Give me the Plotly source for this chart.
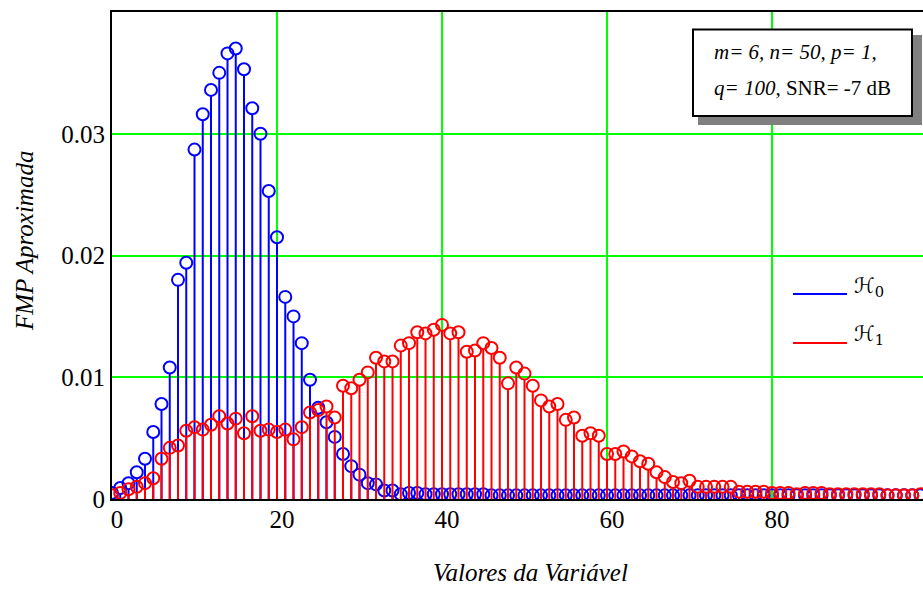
import plotly.graph_objects as go

# Values of the variable (integer support 0..98)
k = list(range(99))

# Approximate PMF under H0 (blue)
h0 = [0.0005, 0.0009, 0.0013, 0.0022, 0.0033, 0.0055, 0.0078, 0.0108, 0.0180, 0.0194,
      0.0287, 0.0316, 0.0336, 0.0350, 0.0366, 0.0370, 0.0353, 0.0321, 0.0300, 0.0253,
      0.0215, 0.0166, 0.0150, 0.0128, 0.0098, 0.0075, 0.0063, 0.0051, 0.0037, 0.0027,
      0.0020, 0.0013, 0.0012, 0.0007, 0.0007, 0.0004, 0.0005, 0.0005, 0.0004, 0.0004,
      0.0004, 0.0004, 0.0004, 0.0004, 0.0004, 0.0004, 0.0003, 0.0003, 0.0003, 0.0003,
      0.0003, 0.0003, 0.0003, 0.0003, 0.0003, 0.0003, 0.0003, 0.0003, 0.0003, 0.0003,
      0.0003, 0.0003, 0.0003, 0.0003, 0.0003, 0.0003, 0.0003, 0.0003, 0.0003, 0.0003,
      0.0003, 0.0003, 0.0003, 0.0003, 0.0003, 0.0003, 0.0003, 0.0003, 0.0003, 0.0003,
      0.0003, 0.0003, 0.0003, 0.0003, 0.0003, 0.0003, 0.0003, 0.0003, 0.0003, 0.0003,
      0.0003, 0.0003, 0.0003, 0.0003, 0.0003, 0.0003, 0.0003, 0.0003, 0.0003]

# Approximate PMF under H1 (red)
h1 = [0.0003, 0.0005, 0.0008, 0.0010, 0.0013, 0.0017, 0.0033, 0.0042, 0.0044, 0.0056,
      0.0059, 0.0057, 0.0061, 0.0068, 0.0062, 0.0066, 0.0054, 0.0068, 0.0056, 0.0057,
      0.0055, 0.0057, 0.0049, 0.0059, 0.0071, 0.0073, 0.0076, 0.0067, 0.0093, 0.0091,
      0.0098, 0.0104, 0.0116, 0.0113, 0.0113, 0.0126, 0.0128, 0.0137, 0.0136, 0.0139,
      0.0143, 0.0136, 0.0137, 0.0121, 0.0122, 0.0128, 0.0124, 0.0116, 0.0095, 0.0108,
      0.0103, 0.0093, 0.0081, 0.0076, 0.0078, 0.0065, 0.0067, 0.0052, 0.0054, 0.0052,
      0.0037, 0.0037, 0.0039, 0.0035, 0.0031, 0.0029, 0.0022, 0.0018, 0.0014, 0.0013,
      0.0015, 0.0010, 0.0010, 0.0010, 0.0010, 0.0010, 0.0006, 0.0006, 0.0006, 0.0006,
      0.0005, 0.0005, 0.0005, 0.0004, 0.0005, 0.0005, 0.0005, 0.0004, 0.0004, 0.0004,
      0.0004, 0.0004, 0.0004, 0.0004, 0.0003, 0.0003, 0.0003, 0.0003, 0.0004]

x_ticks = [0, 20, 40, 60, 80]
y_ticks = [0, 0.01, 0.02, 0.03]
y_ticktext = ["0", "0.01", "0.02", "0.03"]
legend_labels = ["\u210b<sub>0</sub>", "\u210b<sub>1</sub>"]
note_line1 = "<i>m= 6, n= 50, p= 1,</i>"
note_line2 = "<i>q= 100,</i> SNR= -7 dB"
x_title = "Valores da Variável"
y_title = "FMP Aproximada"

BLUE = "#0000FF"
RED = "#FF0000"
GREEN = "#00FF00"
SERIF = "Liberation Serif, Times New Roman, serif"

W, H = 923, 589
L, R, T, B = 112, 0, 12, 90
plot_w = W - L - R
plot_h = H - T - B
x_range = [0, 98.3]
y_range = [0, 0.04]
marker_size = 12

# stems stop at the lower edge of each hollow circle
r_data = (marker_size / 2) * (y_range[1] - y_range[0]) / plot_h


def stems(vals):
    xs, ys = [], []
    for i, v in zip(k, vals):
        top = v - r_data
        if top > 0:
            xs += [i, i, None]
            ys += [0, top, None]
    return xs, ys


def px(xp):
    return (xp - L) / plot_w


def py(yp):
    return (H - B - yp) / plot_h


fig = go.Figure()
for vals, color in ((h0, BLUE), (h1, RED)):
    sx, sy = stems(vals)
    fig.add_trace(go.Scatter(x=sx, y=sy, mode="lines",
                             line=dict(color=color, width=2),
                             hoverinfo="skip", showlegend=False))
    fig.add_trace(go.Scatter(x=k, y=vals, mode="markers",
                             marker=dict(symbol="circle-open", size=marker_size,
                                         color=color, line=dict(color=color, width=2)),
                             showlegend=False))

shapes = [
    # shadowed note box
    dict(type="rect", xref="paper", yref="paper", x0=px(698), x1=px(922),
         y0=py(125), y1=py(35), fillcolor="#808080", line=dict(width=0)),
    dict(type="rect", xref="paper", yref="paper", x0=px(693), x1=px(912),
         y0=py(116), y1=py(29.5), fillcolor="white", line=dict(color="black", width=2)),
    # legend strokes
    dict(type="line", xref="paper", yref="paper", x0=px(793), x1=px(847),
         y0=py(294), y1=py(294), line=dict(color=BLUE, width=2)),
    dict(type="line", xref="paper", yref="paper", x0=px(793), x1=px(847),
         y0=py(343), y1=py(343), line=dict(color=RED, width=2)),
]

annotations = [
    dict(text=note_line1, x=px(712), y=py(52), xref="paper", yref="paper",
         xanchor="left", yanchor="middle", showarrow=False,
         font=dict(family=SERIF, size=21, color="black")),
    dict(text=note_line2, x=px(712), y=py(88), xref="paper", yref="paper",
         xanchor="left", yanchor="middle", showarrow=False,
         font=dict(family=SERIF, size=21, color="black")),
    dict(text=legend_labels[0], x=px(852), y=py(287), xref="paper", yref="paper",
         xanchor="left", yanchor="middle", showarrow=False,
         font=dict(family="DejaVu Serif, DejaVu Sans", size=21, color="black")),
    dict(text=legend_labels[1], x=px(852), y=py(335), xref="paper", yref="paper",
         xanchor="left", yanchor="middle", showarrow=False,
         font=dict(family="DejaVu Serif, DejaVu Sans", size=21, color="black")),
    dict(text="<i>" + x_title + "</i>", x=px(530), y=py(572), xref="paper", yref="paper",
         xanchor="center", yanchor="middle", showarrow=False,
         font=dict(family=SERIF, size=25, color="black")),
    dict(text="<i>" + y_title + "</i>", x=px(24), y=py(241), xref="paper", yref="paper",
         xanchor="center", yanchor="middle", showarrow=False, textangle=-90,
         font=dict(family=SERIF, size=25, color="black")),
]

fig.update_layout(
    width=W, height=H,
    margin=dict(l=L, r=R, t=T, b=B),
    paper_bgcolor="white", plot_bgcolor="white",
    showlegend=False,
    shapes=shapes,
    annotations=annotations,
    xaxis=dict(range=x_range, tickvals=x_ticks, ticktext=[str(v) for v in x_ticks],
               showgrid=True, gridcolor=GREEN, gridwidth=2, zeroline=False,
               showline=True, linecolor="black", linewidth=2, mirror=True,
               ticks="", ticklabelshift=5, ticklabelstandoff=-3,
               tickfont=dict(family=SERIF, size=25, color="black")),
    yaxis=dict(range=y_range, tickvals=y_ticks, ticktext=y_ticktext,
               showgrid=True, gridcolor=GREEN, gridwidth=2, zeroline=False,
               showline=True, linecolor="black", linewidth=2, mirror=False,
               ticks="", ticklabelstandoff=0,
               tickfont=dict(family=SERIF, size=25, color="black")),
)

fig.write_html("out.html")
